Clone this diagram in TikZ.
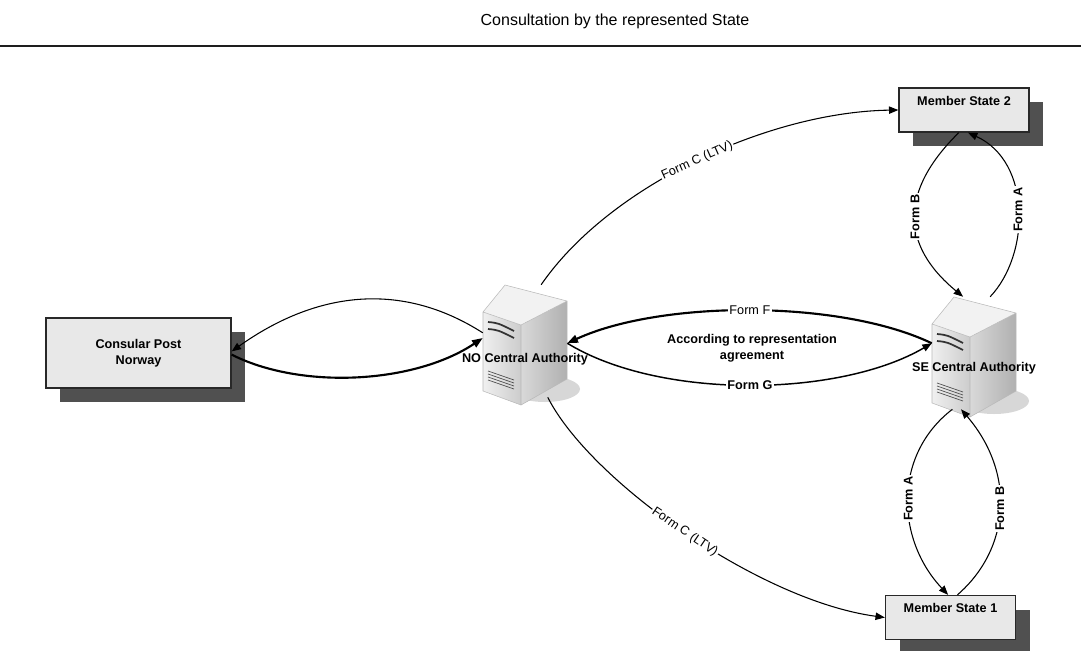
\documentclass[tikz,border=0pt]{standalone}
\usepackage{fontspec}
\setmainfont{Liberation Sans}
\usepackage{tikz}
\usetikzlibrary{arrows.meta}
\usetikzlibrary{shadows}
\usepackage{xcolor}

\begin{document}
\begin{tikzpicture}[x=0.75pt,y=0.75pt,yscale=-1,
        box/.style={draw={rgb, 255:red, 40; green, 40; blue, 40 },line width=1pt,fill={rgb, 255:red, 232; green, 232; blue, 232 },drop shadow={shadow xshift=10.5pt,shadow yshift=-10.5pt,fill={rgb, 255:red, 80; green, 80; blue, 80 },opacity=1},font=\fontsize{9.5}{12}\selectfont\bfseries,align=center,inner sep=0pt},
        msbox/.style={box,minimum width=97.5pt,text height=13pt,text depth=20pt},
        srv/.style={minimum width=63pt,minimum height=84pt,inner sep=0pt},
        srvlabel/.style={font=\fontsize{9.5}{12}\selectfont\bfseries,inner sep=0.75pt},
        flow/.style={line width=0.8pt,-{Triangle[length=7pt,width=5.5pt]}},
        boldflow/.style={line width=1.6pt,-{Triangle[length=8pt,width=6pt]}},
        formlabel/.style={fill=white,inner sep=1pt,font=\fontsize{9.5}{12}\selectfont},
        boldlabel/.style={formlabel,font=\fontsize{9.5}{12}\selectfont\bfseries},
        server/.pic={
            \fill [color={rgb, 255:red, 215; green, 215; blue, 215 }] (62,104) ellipse [x radius=35, y radius=13];
            \shade [left color=gray!30,right color=gray!62] (38,40) -- (84,16) -- (84,94) -- (38,120) -- cycle;
            \shade [left color=gray!12,right color=gray!40] (0,27) -- (38,40) -- (38,120) -- (0,106) -- cycle;
            \fill [color=gray!10] (0,27) -- (22,0) -- (84,16) -- (38,40) -- cycle;
            \draw [gray!55,line width=0.4pt] (0,27) -- (22,0) -- (84,16) -- (84,94) -- (38,120) -- (0,106) -- cycle (0,27) -- (38,40) -- (84,16) (38,40) -- (38,120);
            \draw [black!80,line width=1.3pt] (5,37) .. controls (15,38) .. (31,46);
            \draw [black!80,line width=1.3pt] (5,44) .. controls (15,45) .. (31,53);
            \foreach \v in {0,3,6,9} {\draw [black!70,line width=0.5pt] (5,86+\v) -- (31,95+\v);}
        }
    ]
        \useasboundingbox (0,0) rectangle (1081,650);

        % Text Node
        \draw (615,21) node (title) [font=\fontsize{12}{14}\selectfont] {Consultation by the represented State};
        %Straight Lines
        \draw [color={rgb, 255:red, 30; green, 30; blue, 30 },line width=1.9pt] (0,46) -- (1081,46);

        %Shape: Boxes
        \draw (138.5,353) node (consular) [box,minimum width=138.75pt,minimum height=52.5pt] {Consular Post\\Norway};
        \draw (964,110) node (ms2) [msbox] {Member State 2};
        \draw (950.5,617.5) node (ms1) [msbox] {Member State 1};

        %Shape: Servers
        \path (483,285) pic [yscale=-1] {server};
        \path (932,297) pic [yscale=-1] {server};
        \draw (525,341) node (no) [srv] {};
        \draw (974,353) node (se) [srv] {};
        \draw (525,359) node (nolabel) [srvlabel] {NO Central Authority};
        \draw (974,368) node (selabel) [srvlabel] {SE Central Authority};

        %Curve Lines
        \draw [flow] (no.169) .. controls +(-83,-53) and +(83,-59) .. (consular.1);
        \draw [boldflow] (consular.-1) .. controls +(69,35) and +(-69,46) .. (no.176);
        \draw [boldflow] (se.167) .. controls +(-92,-44) and +(93,-43) .. (no.-3) node [pos=0.5,formlabel] {Form F};
        \draw [flow,line width=1.1pt] (no.-3) .. controls +(93,57) and +(-92,54) .. (se.167) node [pos=0.5,boldlabel] {Form G};
        \draw [flow] (no.74) .. controls +(69,-100) and +(-129,2) .. (ms2.west) node [pos=0.5,formlabel,rotate=24] {Form C (LTV)};
        \draw [flow] (no.-68) .. controls +(42,83) and +(-126,-17) .. (ms1.west) node [pos=0.5,formlabel,rotate=-34] {Form C (LTV)};
        \draw [flow] (ms2.-103) .. controls +(-59,58) and +(-63,-52) .. (se.101) node [pos=0.5,boldlabel,rotate=90] {Form B};
        \draw [flow] (se.74) .. controls +(40,-42) and +(64,29) .. (ms2.-80) node [pos=0.5,boldlabel,rotate=90] {Form A};
        \draw [flow] (se.-111) .. controls +(-60,46) and +(-52,-55) .. (ms1.96) node [pos=0.5,boldlabel,rotate=90] {Form A};
        \draw [flow] (ms1.73) .. controls +(53,-46) and +(55,64) .. (se.-103) node [pos=0.5,boldlabel,rotate=90] {Form B};

        % Text Node
        \draw (752,348) node (agreement) [font=\fontsize{9.5}{12}\selectfont\bfseries,align=center] {According to representation\\agreement};

\end{tikzpicture}
\end{document}
